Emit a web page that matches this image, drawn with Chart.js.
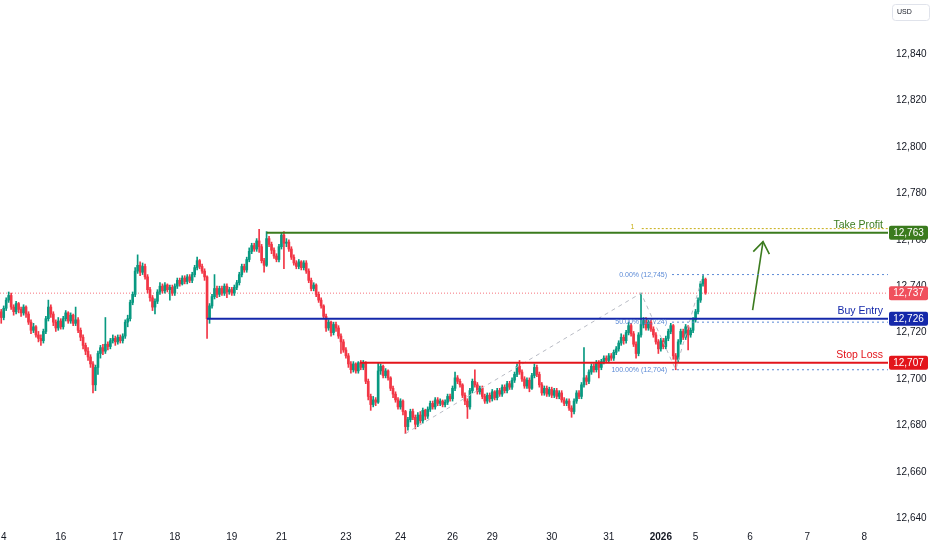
<!DOCTYPE html>
<html>
<head>
<meta charset="utf-8">
<title>Buy Entry / Take Profit / Stop Loss</title>
<script src="https://cdn.jsdelivr.net/npm/chart.js@4.4.1/dist/chart.umd.min.js"></script>
<style>
  html, body { margin: 0; padding: 0; background: #fff; }
  #chart { display: block; }
</style>
</head>
<body>
<canvas id="chart" width="932" height="550"></canvas>
<script>
// Hourly candles (index 0 = first bar on the left)
var opens = [
  12729,12726.5,12730.5,12734,12736,12731,12729,12732.5,12730,12728.5,
  12731,12728,12724.5,12721,12722.5,12719,12717.5,12716.5,12720.5,12726,
  12731,12728,12724.5,12722,12725,12722.5,12726,12728.5,12725,12727.5,
  12724,12725.5,12721,12718,12714.5,12712,12709.5,12706.5,12697.5,12705,
  12711,12713.5,12712,12715,12714,12716.5,12717.5,12716,12718,12716.5,
  12718.5,12724.5,12726,12733,12736.5,12746.5,12749,12746,12748.5,12744,
  12738.5,12735,12731,12733.5,12737.5,12740,12738,12740.5,12738.5,12739.5,
  12737,12740,12742.5,12741,12743.5,12742,12744,12742.5,12745,12748,
  12751,12748.5,12746.5,12744,12726,12731.5,12735.5,12739,12736.5,12739,
  12737,12740,12737.5,12738.5,12737,12739.5,12741.5,12745,12748.5,12747,
  12751.5,12755,12757.5,12756,12759.5,12757,12751,12749,12760.5,12758,
  12755.5,12753,12751.5,12757,12762,12758.5,12759,12756,12752.5,12750,
  12748.5,12750.5,12748,12750,12746.5,12742.5,12739,12740.5,12736.5,12734,
  12731.5,12727,12722,12724.5,12720,12723.5,12722,12718.5,12716,12712.5,
  12710,12706.5,12704,12706.5,12703.5,12707,12705,12707,12699,12692.5,
  12689,12691,12690,12703.5,12705.5,12701.5,12703.5,12700.5,12696,12693.5,
  12691,12688,12690.5,12686,12679.5,12682.5,12686,12683.5,12680.5,12684.5,
  12682,12686.5,12684,12687,12689.5,12688,12691,12689.5,12690.5,12689,
  12690,12692.5,12691.5,12696,12700.5,12699,12697.5,12693,12690.5,12688,
  12695,12699,12697.5,12694.5,12696,12692.5,12690.5,12693,12691.5,12694.5,
  12692,12695,12693.5,12696.5,12695,12698,12696.5,12699.5,12702,12705.5,
  12703,12700,12697,12699.5,12696,12701.5,12705,12702,12697.5,12694,
  12696,12693.5,12695.5,12693,12695,12692.5,12694,12691,12689.5,12690.5,
  12687.5,12686,12690.5,12694,12692.5,12697.5,12700.5,12699,12703,12705.5,
  12704,12707,12705,12707.5,12709,12708,12710,12709,12711.5,12713,
  12715.5,12718,12716.5,12720,12723,12719.5,12715,12711,12719,12723.5,
  12725.5,12722,12724.5,12721.5,12719,12716,12713,12716.5,12714,12717.5,
  12720.5,12723,12710,12708.5,12716,12720.5,12718,12722.5,12719,12721,
  12725.5,12729,12734,12741,12743
];
var highs = [
  12730,12731.5,12735,12737.5,12737,12732,12733.5,12733,12731,12732,
  12731.5,12729,12725.5,12724,12723,12720.5,12719,12721.5,12727,12734,
  12732,12729,12725.5,12726.5,12726,12727,12729.5,12729,12728.5,12728,
  12731,12726.5,12722,12719,12715.5,12713.5,12710.5,12707.5,12706,12712,
  12714.5,12715,12726.5,12716,12717.5,12719,12718.5,12719,12719,12719.5,
  12725.5,12727.5,12734,12737.5,12748,12753.5,12750.5,12750,12749.5,12745,
  12739.5,12736,12734.5,12738.5,12741.5,12741,12741.5,12741,12740.5,12740.5,
  12741,12743.5,12743.5,12744.5,12744.5,12745,12745,12746,12749,12752.5,
  12751.5,12749.5,12747.5,12744.5,12732.5,12736.5,12745,12740,12740,12740,
  12741,12741,12739.5,12739.5,12740.5,12742.5,12746,12749.5,12749.5,12752.5,
  12756.5,12758.5,12758.5,12760.5,12764.5,12758,12752,12763.5,12761.5,12759,
  12756.5,12754,12758,12763,12763.5,12760.5,12760,12757,12753.5,12751,
  12751.5,12751,12751,12751,12747.5,12743.5,12741.5,12741,12737.5,12735,
  12732,12728,12725.5,12725,12724.5,12724.5,12723,12719.5,12717,12713.5,
  12711,12707.5,12707.5,12707,12707.5,12708,12708,12707.5,12700,12693.5,
  12692.5,12692,12707,12706.5,12706,12704.5,12704,12701,12697,12694.5,
  12692,12691.5,12691,12686.5,12683.5,12687,12687,12684.5,12685.5,12686,
  12687.5,12687,12688,12690.5,12690.5,12692,12692,12691.5,12691,12691,
  12693.5,12693.5,12697,12703,12701.5,12700,12698,12694,12691.5,12696,
  12700,12704,12698.5,12697,12697,12693.5,12694,12694,12695.5,12695,
  12696,12696,12697.5,12697.5,12699,12699,12700.5,12703,12706.5,12708,
  12704,12701,12700.5,12700.5,12702.5,12706.5,12706,12703,12698.5,12697,
  12697,12696.5,12696.5,12696,12696,12695,12695,12692,12691.5,12691.5,
  12688.5,12691.5,12695,12695,12698.5,12713.5,12701.5,12704,12706.5,12706.5,
  12708,12708,12708.5,12710,12710,12711,12711,12712.5,12714,12716.5,
  12719.5,12719,12721,12724.5,12724,12720.5,12716,12720,12737,12726.5,
  12726.5,12725.5,12725.5,12722.5,12720,12717,12717.5,12717.5,12718.5,12721.5,
  12724,12723.5,12711,12717,12721.5,12721.5,12723.5,12723,12722,12726.5,
  12730,12735,12742,12745,12743.5
];
var lows = [
  12724,12725.5,12729.5,12733,12730,12727.5,12728,12728.5,12727,12727.5,
  12726.5,12723.5,12719.5,12720,12718,12716,12714.5,12715.5,12719.5,12725,
  12726.5,12723,12720.5,12721,12721.5,12721.5,12725,12724,12724,12723,
  12723,12720,12716.5,12713,12710.5,12708,12705,12694,12695,12702,
  12709,12710.5,12711,12712.5,12713,12715.5,12714.5,12715,12715.5,12715.5,
  12717.5,12722.5,12725,12732,12735.5,12745.5,12744.5,12745,12743,12737,
  12733.5,12729.5,12728,12732.5,12736.5,12737,12737,12737.5,12734,12736,
  12736,12739,12740,12740.5,12741,12741,12741.5,12741.5,12744,12747,
  12747.5,12745.5,12742.5,12717.5,12724,12730.5,12734.5,12735,12735.5,12736,
  12736,12735,12736.5,12736,12736,12738.5,12740.5,12744,12746,12746,
  12750.5,12754,12755,12755,12754.5,12750,12746,12748.5,12757,12754,
  12752,12750.5,12750.5,12756,12747.5,12757,12755,12751.5,12749,12747.5,
  12747.5,12747,12747,12745.5,12741.5,12738,12738,12735.5,12733,12730.5,
  12726,12720.5,12721,12718.5,12719,12720.5,12717.5,12711,12711.5,12709,
  12705,12702.5,12703,12702.5,12702.5,12704,12704,12698,12691,12686.5,
  12688,12688.5,12689.5,12702,12700.5,12700.5,12699.5,12695,12692,12690,
  12687,12687,12684.5,12676.5,12678,12681.5,12682.5,12678.5,12679.5,12681,
  12681,12682.5,12683,12686,12687,12687,12688.5,12688.5,12688,12688,
  12689,12690.5,12690.5,12695,12698,12696.5,12692,12689,12683,12687,
  12694,12696.5,12693.5,12693.5,12691.5,12689.5,12689.5,12690,12690.5,12691,
  12691,12692.5,12692.5,12694,12694,12695.5,12695.5,12698.5,12701,12702,
  12699,12696,12696,12694.5,12695.5,12700.5,12701,12696.5,12693,12693,
  12692.5,12692.5,12692,12692,12691.5,12691.5,12690,12688.5,12688.5,12686.5,
  12683.5,12685,12689.5,12691.5,12691.5,12696.5,12697.5,12698,12702,12703,
  12703,12700.5,12704,12706.5,12707,12707,12708,12708,12710.5,12712,
  12714.5,12715,12715.5,12719,12718.5,12714,12709,12710,12718,12722,
  12721,12721,12720.5,12718,12715,12711,12712,12713,12713,12716.5,
  12719.5,12708.5,12704,12707.5,12715,12717,12717,12712.5,12718,12720,
  12724.5,12728,12733,12740,12736.5
];
var closes = [
  12726.5,12730.5,12734,12736,12731,12729,12732.5,12730,12728.5,12731,
  12728,12724.5,12721,12722.5,12719,12717.5,12716.5,12720.5,12726,12731,
  12728,12724.5,12722,12725,12722.5,12726,12728.5,12725,12727.5,12724,
  12725.5,12721,12718,12714.5,12712,12709.5,12706.5,12697.5,12705,12711,
  12713.5,12712,12715,12714,12716.5,12717.5,12716,12718,12716.5,12718.5,
  12724.5,12726,12733,12736.5,12746.5,12749,12746,12748.5,12744,12738.5,
  12735,12731,12733.5,12737.5,12740,12738,12740.5,12738.5,12739.5,12737,
  12740,12742.5,12741,12743.5,12742,12744,12742.5,12745,12748,12751,
  12748.5,12746.5,12744,12726,12731.5,12735.5,12739,12736.5,12739,12737,
  12740,12737.5,12738.5,12737,12739.5,12741.5,12745,12748.5,12747,12751.5,
  12755,12757.5,12756,12759.5,12757,12751,12749,12760.5,12758,12755.5,
  12753,12751.5,12757,12762,12758.5,12759,12756,12752.5,12750,12748.5,
  12750.5,12748,12750,12746.5,12742.5,12739,12740.5,12736.5,12734,12731.5,
  12727,12722,12724.5,12720,12723.5,12722,12718.5,12716,12712.5,12710,
  12706.5,12704,12706.5,12703.5,12707,12705,12707,12699,12692.5,12689,
  12691,12690,12703.5,12705.5,12701.5,12703.5,12700.5,12696,12693.5,12691,
  12688,12690.5,12686,12679.5,12682.5,12686,12683.5,12680.5,12684.5,12682,
  12686.5,12684,12687,12689.5,12688,12691,12689.5,12690.5,12689,12690,
  12692.5,12691.5,12696,12700.5,12699,12697.5,12693,12690.5,12688,12695,
  12699,12697.5,12694.5,12696,12692.5,12690.5,12693,12691.5,12694.5,12692,
  12695,12693.5,12696.5,12695,12698,12696.5,12699.5,12702,12705.5,12703,
  12700,12697,12699.5,12696,12701.5,12705,12702,12697.5,12694,12696,
  12693.5,12695.5,12693,12695,12692.5,12694,12691,12689.5,12690.5,12687.5,
  12686,12690.5,12694,12692.5,12697.5,12700.5,12699,12703,12705.5,12704,
  12707,12705,12707.5,12709,12708,12710,12709,12711.5,12713,12715.5,
  12718,12716.5,12720,12723,12719.5,12715,12711,12719,12723.5,12725.5,
  12722,12724.5,12721.5,12719,12716,12713,12716.5,12714,12717.5,12720.5,
  12723,12710,12708.5,12716,12720.5,12718,12722.5,12719,12721,12725.5,
  12729,12734,12741,12743,12737
];

// Time axis (bar index of each day label)
var dayTicks  = [1, 24, 47, 70, 93, 113, 139, 161, 182, 198, 222, 245, 266, 280, 302, 325, 348];
var dayLabels = ['4', '16', '17', '18', '19', '21', '23', '24', '26', '29', '30', '31', '2026', '5', '6', '7', '8'];

// Price axis
var priceTicks = [12640, 12660, 12680, 12700, 12720, 12740, 12760, 12780, 12800, 12820, 12840];

// Trade levels (start = bar index where the line is drawn from)
var levelNames  = ['Take Profit', 'Buy Entry', 'Stop Loss'];
var levelPrices = [12763, 12726, 12707];
var levelStarts = [107, 83, 144.7];

// Fibonacci tool: anchor bars (low, spike high, low, high)
var fibAnchorBars = [163, 258, 272, 283];
var fibNames = ['0.00%', '50.00%', '100.00%'];
var fibRatios = [0, 0.5, 1];
var extLevel = 12764.8;   // the "1" level of the extension

// Projected move (bar index, price)
var arrowFrom = [303, 12729.7];
var arrowTo = [307.2, 12759.2];

// Style
var UP = '#089981';
var DOWN = '#f23645';
var FONT = "'Liberation Sans', Arial, sans-serif";
var TEXT = '#131722';
var levelColors = ['#3b7b1e', '#1428aa', '#e3151b'];
var FIB_BLUE = '#5b8ad6';
var X_MIN = -0.5, X_MAX = 357.6;
var Y_MIN = 12638.4, Y_MAX = 12863.3;

var candleColor = function (ctx) {
  var i = ctx.dataIndex;
  return closes[i] >= opens[i] ? UP : DOWN;
};
var fmt = function (v) { return Math.floor(v).toLocaleString('en-US'); };

var lastClose = closes[closes.length - 1];
var fibHigh = highs[fibAnchorBars[3]];
var fibLow = lows[fibAnchorBars[2]];
var fibPrices = fibRatios.map(function (r) { return fibHigh - (fibHigh - fibLow) * r; });
var fibStartBar = fibAnchorBars[2] - 1.5;

// Build datasets
var datasets = [];

levelPrices.forEach(function (p, k) {
  datasets.push({
    type: 'line', order: 0,
    data: [{ x: levelStarts[k], y: p }, { x: X_MAX, y: p }],
    borderColor: levelColors[k], borderWidth: 2, pointRadius: 0
  });
});

fibPrices.forEach(function (p) {
  datasets.push({
    type: 'line', order: 1,
    data: [{ x: fibStartBar, y: p }, { x: X_MAX, y: p }],
    borderColor: FIB_BLUE, borderWidth: 1, borderDash: [2, 3], pointRadius: 0
  });
});

datasets.push({
  type: 'line', order: 1,
  data: [{ x: fibAnchorBars[1] + 0.3, y: extLevel }, { x: X_MAX, y: extLevel }],
  borderColor: '#c7ae14', borderWidth: 1, borderDash: [2, 2], pointRadius: 0
});

datasets.push({
  type: 'line', order: 1,
  data: [
    { x: fibAnchorBars[0], y: lows[fibAnchorBars[0]] },
    { x: fibAnchorBars[1], y: highs[fibAnchorBars[1]] },
    { x: fibAnchorBars[2], y: lows[fibAnchorBars[2]] },
    { x: fibAnchorBars[3], y: highs[fibAnchorBars[3]] }
  ],
  borderColor: '#b8bbc4', borderWidth: 1, borderDash: [4, 4], pointRadius: 0
});

datasets.push({
  type: 'line', order: 2,
  data: [{ x: arrowFrom[0], y: arrowFrom[1] }, { x: arrowTo[0], y: arrowTo[1] }],
  borderColor: levelColors[0], borderWidth: 1.6, pointRadius: 0
});

// Candle bodies
datasets.push({
  type: 'bar', order: 3, grouped: false,
  data: closes.map(function (c, i) { return { x: i, y: [opens[i], c] }; }),
  backgroundColor: candleColor, borderWidth: 0, barThickness: 2, minBarLength: 1
});

// Candle wicks
datasets.push({
  type: 'bar', order: 4, grouped: false,
  data: highs.map(function (h, i) { return { x: i, y: [lows[i], h] }; }),
  backgroundColor: candleColor, borderWidth: 0, barThickness: 1
});

// Last price line
datasets.push({
  type: 'line', order: 5,
  data: [{ x: X_MIN, y: lastClose }, { x: X_MAX, y: lastClose }],
  borderColor: 'rgba(242,54,69,0.7)', borderWidth: 1, borderDash: [1, 2], pointRadius: 0
});

function box(ctx, x, y, w, h, r) {
  ctx.beginPath();
  if (ctx.roundRect) ctx.roundRect(x, y, w, h, r); else ctx.rect(x, y, w, h);
  ctx.fill();
}

var annotations = {
  id: 'annotations',
  afterDraw: function (chart) {
    var ctx = chart.ctx;
    var xs = chart.scales.x, ys = chart.scales.y, area = chart.chartArea;
    ctx.save();

    // Level captions
    ctx.font = '10.5px ' + FONT;
    ctx.textAlign = 'right';
    ctx.textBaseline = 'alphabetic';
    levelNames.forEach(function (name, k) {
      ctx.fillStyle = levelColors[k];
      ctx.fillText(name, area.right - 5, ys.getPixelForValue(levelPrices[k]) - 5);
    });

    // Fibonacci labels
    ctx.font = '7px ' + FONT;
    ctx.textBaseline = 'middle';
    ctx.fillStyle = FIB_BLUE;
    fibPrices.forEach(function (p, k) {
      ctx.fillText(fibNames[k] + ' (' + fmt(p) + ')', xs.getPixelForValue(fibStartBar - 2), ys.getPixelForValue(p));
    });
    ctx.fillStyle = '#c7ae14';
    ctx.textAlign = 'center';
    ctx.fillText('1', xs.getPixelForValue(fibAnchorBars[1] - 3.5), ys.getPixelForValue(extLevel) - 2);

    // Arrow head
    var tx = xs.getPixelForValue(arrowTo[0]), ty = ys.getPixelForValue(arrowTo[1]);
    var fx = xs.getPixelForValue(arrowFrom[0]), fy = ys.getPixelForValue(arrowFrom[1]);
    var ang = Math.atan2(fy - ty, fx - tx);
    ctx.strokeStyle = levelColors[0];
    ctx.lineWidth = 1.6;
    ctx.beginPath();
    ctx.moveTo(tx + 14 * Math.cos(ang + 0.62), ty + 14 * Math.sin(ang + 0.62));
    ctx.lineTo(tx, ty);
    ctx.lineTo(tx + 14 * Math.cos(ang - 0.62), ty + 14 * Math.sin(ang - 0.62));
    ctx.stroke();

    // Price scale boxes
    var boxes = [
      [levelPrices[0], levelColors[0]],
      [lastClose, '#f0505d'],
      [levelPrices[1], levelColors[1]],
      [levelPrices[2], levelColors[2]]
    ];
    ctx.font = '10px ' + FONT;
    ctx.textAlign = 'center';
    ctx.textBaseline = 'middle';
    boxes.forEach(function (b) {
      var y = ys.getPixelForValue(b[0]);
      ctx.fillStyle = b[1];
      box(ctx, area.right + 1, y - 7, 39, 14, 2);
      ctx.fillStyle = '#ffffff';
      ctx.fillText(fmt(b[0]), area.right + 20.5, y + 0.5);
    });

    // Currency badge
    ctx.strokeStyle = '#e0e3eb';
    ctx.lineWidth = 1;
    ctx.fillStyle = '#ffffff';
    ctx.beginPath();
    if (ctx.roundRect) ctx.roundRect(892.5, 4.5, 37, 16, 3); else ctx.rect(892.5, 4.5, 37, 16);
    ctx.fill();
    ctx.stroke();
    ctx.fillStyle = TEXT;
    ctx.font = '7px ' + FONT;
    ctx.textAlign = 'left';
    ctx.fillText('USD', 897, 12.5);

    ctx.restore();
  }
};

new Chart(document.getElementById('chart'), {
  type: 'bar',
  data: { datasets: datasets },
  options: {
    responsive: false,
    animation: false,
    events: [],
    layout: { padding: 0 },
    plugins: { legend: { display: false }, tooltip: { enabled: false } },
    scales: {
      x: {
        type: 'linear', min: X_MIN, max: X_MAX, offset: false,
        grid: { display: false, drawTicks: false },
        border: { display: false },
        afterBuildTicks: function (axis) {
          axis.ticks = dayTicks.map(function (v) { return { value: v }; });
        },
        afterFit: function (axis) {
          axis.height = 28;
          axis.paddingLeft = 0;
          axis.paddingRight = 0;
        },
        ticks: {
          autoSkip: false, maxRotation: 0, padding: 9, color: TEXT,
          font: function (ctx) {
            return { family: FONT, size: 10, weight: dayLabels[ctx.index] === '2026' ? 'bold' : 'normal' };
          },
          callback: function (v, i) { return dayLabels[i]; }
        }
      },
      y: {
        position: 'right', min: Y_MIN, max: Y_MAX,
        grid: { display: false, drawTicks: false },
        border: { display: false },
        afterBuildTicks: function (axis) {
          axis.ticks = priceTicks.map(function (v) { return { value: v }; });
        },
        afterFit: function (axis) {
          axis.width = 44;
          axis.paddingTop = 0;
          axis.paddingBottom = 0;
        },
        ticks: {
          padding: 8, color: TEXT, font: { family: FONT, size: 10 },
          callback: function (v) { return v.toLocaleString('en-US'); }
        }
      }
    }
  },
  plugins: [annotations]
});
</script>
</body>
</html>
